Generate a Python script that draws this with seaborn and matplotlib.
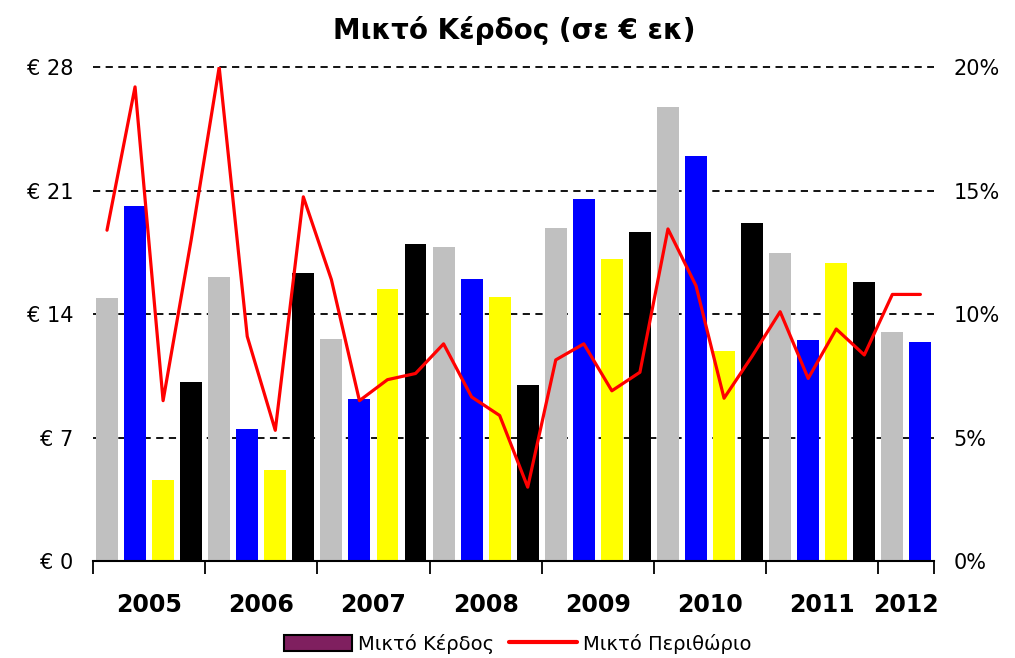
import numpy as np
import pandas as pd
import matplotlib
matplotlib.use("Agg")
import matplotlib.pyplot as plt
import seaborn as sns
from matplotlib.patches import Patch
from matplotlib.lines import Line2D

# ---- data ----
years = ["2005", "2006", "2007", "2008", "2009", "2010", "2011", "2012"]
quarters_per_year = [4, 4, 4, 4, 4, 4, 4, 2]
quarter_colors = ["#C0C0C0", "#0000FF", "#FFFF00", "#000000"]

gross_profit = [14.9, 20.15, 4.6, 10.15,
                16.1, 7.5, 5.2, 16.35,
                12.6, 9.2, 15.4, 18.0,
                17.8, 16.0, 15.0, 10.0,
                18.9, 20.5, 17.15, 18.65,
                25.75, 22.95, 11.9, 19.15,
                17.45, 12.55, 16.9, 15.8,
                13.0, 12.4]

gross_margin = [13.4, 19.2, 6.5, 13.0,
                20.0, 9.1, 5.3, 14.75,
                11.4, 6.5, 7.35, 7.6,
                8.8, 6.65, 5.9, 3.0,
                8.15, 8.8, 6.9, 7.65,
                13.45, 11.15, 6.6, 8.3,
                10.1, 7.4, 9.4, 8.35,
                10.8, 10.8]

left_ticks = [0, 7, 14, 21, 28]
right_ticks = [0, 5, 10, 15, 20]
title = "Μικτό Κέρδος (σε € εκ)"
legend_labels = ["Μικτό Κέρδος", "Μικτό Περιθώριο"]

# ---- build frame ----
periods = [f"{y} Q{q + 1}" for y, n in zip(years, quarters_per_year) for q in range(n)]
colors = [quarter_colors[i % 4] for i in range(len(periods))]
df = pd.DataFrame({"period": periods, "profit": gross_profit, "margin": gross_margin,
                   "pos": np.arange(len(periods))})

sns.set_style("white")
plt.rcParams["font.family"] = ["DejaVu Sans"]
plt.rcParams["text.color"] = "black"
plt.rcParams["xtick.color"] = "black"
plt.rcParams["ytick.color"] = "black"
plt.rcParams["axes.labelcolor"] = "black"

fig = plt.figure(figsize=(10.15, 6.58), dpi=100)
ax = fig.add_axes([0.0916, 0.147, 0.829, 0.751])

sns.barplot(data=df, x="period", y="profit", hue="period", palette=colors,
            dodge=False, legend=False, width=0.78, saturation=1, linewidth=0, ax=ax)

n = len(periods)
ax.set_xlim(-0.5, n - 0.5)
ax.set_ylim(0, 28)
ax.set_yticks(left_ticks)
ax.set_yticklabels([f"€ {v}" for v in left_ticks], fontsize=15)
ax.yaxis.grid(True, linestyle=(0, (4, 3)), color="black", linewidth=1.3)
ax.xaxis.grid(False)
ax.set_axisbelow(True)

# year boundaries & centres
bounds = [-0.5]
centers = []
start = 0
for k in quarters_per_year:
    centers.append(start + (k - 1) / 2)
    start += k
    bounds.append(start - 0.5)
ax.set_xticks(bounds)
ax.set_xticklabels([""] * len(bounds))
ax.set_xticks(centers, minor=True)
ax.set_xticklabels(years, minor=True, fontsize=17, fontweight="bold")
ax.tick_params(axis="x", which="major", bottom=True, length=9, width=1.3,
               direction="out", color="black")
ax.tick_params(axis="x", which="minor", bottom=True, length=0, pad=23)
ax.tick_params(axis="y", length=0, pad=14)
for s in ["left", "right", "top"]:
    ax.spines[s].set_visible(False)
ax.spines["bottom"].set_color("black")
ax.spines["bottom"].set_linewidth(1.5)
ax.set_xlabel("")
ax.set_ylabel("")
for gl in ax.get_ygridlines():
    gl.set_clip_on(False)

ax2 = ax.twinx()
sns.lineplot(data=df, x="pos", y="margin", color="#FF0000", linewidth=2.3, ax=ax2)
ax2.set_xlim(-0.5, n - 0.5)
ax2.set_ylim(0, 20)
ax2.set_yticks(right_ticks)
ax2.set_yticklabels([f"{v}%" for v in right_ticks], fontsize=15)
ax2.tick_params(axis="y", length=0, pad=14)
for s in ["left", "right", "top", "bottom"]:
    ax2.spines[s].set_visible(False)
ax2.set_xlabel("")
ax2.set_ylabel("")
ax2.grid(False)

fig.text(0.507, 0.953, title, ha="center", va="center", fontsize=20,
         fontweight="bold", color="black")

handles = [Patch(facecolor="#7F1F5F", edgecolor="black", linewidth=1.5),
           Line2D([], [], color="#FF0000", linewidth=3)]
fig.legend(handles, legend_labels, loc="center", bbox_to_anchor=(0.51, 0.022), ncol=2,
           frameon=False, fontsize=14, handlelength=3.5, handleheight=0.9,
           columnspacing=0.8, handletextpad=0.3)

fig.savefig("out.png", dpi=100)
